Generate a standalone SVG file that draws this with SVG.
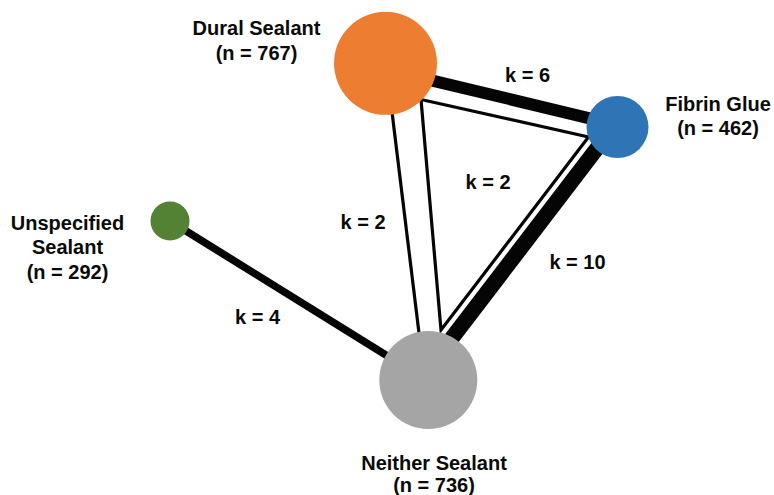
<svg xmlns="http://www.w3.org/2000/svg" width="774" height="495" viewBox="0 0 774 495">
  <style>
    .lbl { font-family: "Liberation Sans", Arial, sans-serif; font-weight: bold; font-size: 20px; fill: #0a0a0a; text-anchor: middle; }
    .edge { stroke: #050505; fill: none; stroke-linecap: butt; }
    .thin { stroke-width: 3.2; }
  </style>
  <rect width="774" height="495" fill="#ffffff"/>

  <!-- comparisons between treatments; widths scale with number of studies -->
  <g id="edges">
    <!-- Dural Sealant vs Fibrin Glue, k = 6 -->
    <line id="e-dural-fibrin" class="edge" x1="425" y1="78.8" x2="600" y2="120.8" stroke-width="12"/>
    <!-- three-arm study loop, k = 2 -->
    <polygon id="e-three-arm" class="edge thin" points="421,99.5 588.5,137 441,330" stroke-linejoin="miter" stroke-miterlimit="10"/>
    <!-- Dural Sealant vs Neither Sealant, k = 2 -->
    <line id="e-dural-neither" class="edge thin" x1="392" y1="112" x2="419" y2="333"/>
    <!-- Fibrin Glue vs Neither Sealant, k = 10 -->
    <line id="e-fibrin-neither" class="edge" x1="605.4" y1="137.4" x2="444.5" y2="347.8" stroke-width="15.5"/>
    <!-- Unspecified Sealant vs Neither Sealant, k = 4 -->
    <line id="e-unspec-neither" class="edge" x1="170" y1="221" x2="410" y2="370" stroke-width="7.5"/>

    <text class="lbl" x="527.5" y="81.5">k = 6</text>
    <text class="lbl" x="488" y="188.5">k = 2</text>
    <text class="lbl" x="577.5" y="268.5">k = 10</text>
    <text class="lbl" x="363" y="228.5">k = 2</text>
    <text class="lbl" x="257.5" y="323.5">k = 4</text>
  </g>

  <g id="node-dural">
    <circle cx="385.5" cy="63.3" r="51.5" fill="#ED7D31"/>
    <text class="lbl" x="256.5" y="35">Dural Sealant</text>
    <text class="lbl" x="256.5" y="59.5">(n = 767)</text>
  </g>

  <g id="node-fibrin">
    <circle cx="617.5" cy="127" r="31" fill="#2E75B6"/>
    <text class="lbl" x="718" y="110.5">Fibrin Glue</text>
    <text class="lbl" x="718" y="134.5">(n = 462)</text>
  </g>

  <g id="node-unspecified">
    <circle cx="170" cy="221" r="19.5" fill="#548235"/>
    <text class="lbl" x="67.5" y="230">Unspecified</text>
    <text class="lbl" x="67.5" y="254">Sealant</text>
    <text class="lbl" x="67.5" y="278.5">(n = 292)</text>
  </g>

  <g id="node-neither">
    <circle cx="428.3" cy="380" r="49" fill="#A5A5A5"/>
    <text class="lbl" x="434" y="469.5">Neither Sealant</text>
    <text class="lbl" x="434" y="492">(n = 736)</text>
  </g>
</svg>
